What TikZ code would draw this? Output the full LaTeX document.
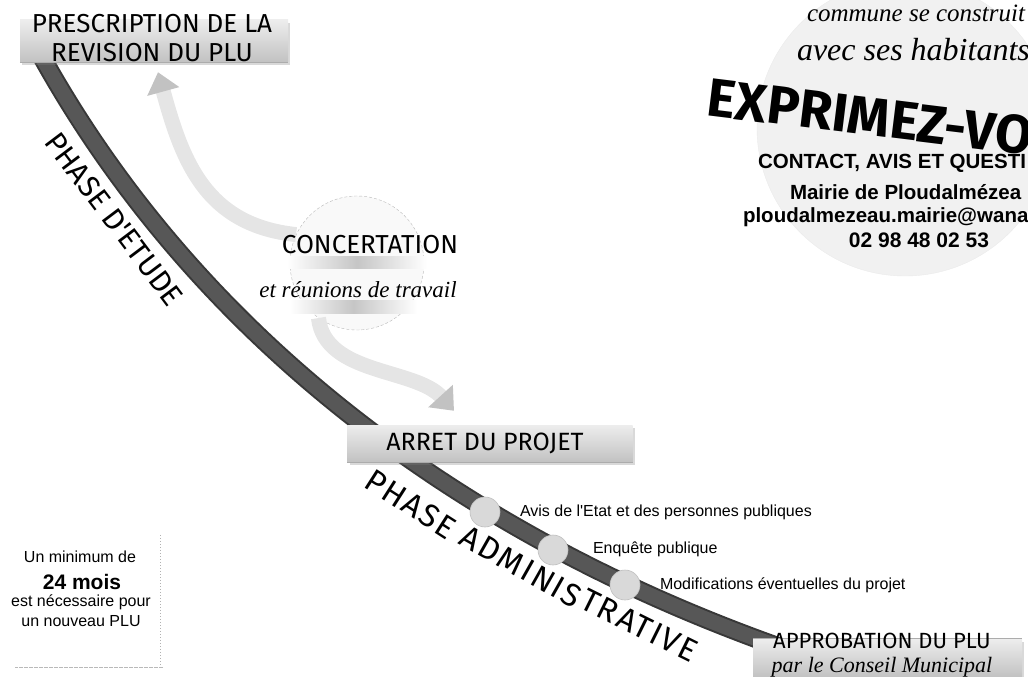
\documentclass[tikz,border=0pt]{standalone}
\usepackage{fontspec}
\newfontfamily\hand{Fira Sans}
\newfontfamily\handsp[LetterSpace=6]{Fira Sans}
\newfontfamily\arial{Liberation Sans}
\newfontfamily\scrpt{Liberation Serif}
\usetikzlibrary{arrows.meta,shadows,calc}
\newcommand\fsz[1]{\fontsize{#1}{#1}\selectfont}
\begin{document}
\begin{tikzpicture}[x=1pt,y=-1pt,
  txt/.style={inner sep=0pt, outer sep=0pt},
  graybox/.style={inner sep=0pt, top color=gray!14, bottom color=gray!48,
     drop shadow={opacity=0.3,shadow xshift=2pt,shadow yshift=-3pt}},
  boxedge/.style={draw=gray!65, line width=1.2pt},
  stepdot/.style={circle, minimum size=30pt, inner sep=0pt, fill=gray!30, draw=gray!50, line width=0.6pt},
  cloudarrow/.style={line width=15pt, draw=gray!20, -{Triangle[length=20pt,width=32pt,color=gray!48]}},
  handcaps/.style={txt, font=\hand\fsz{25}},
  phasetxt/.style={txt, font=\handsp\fsz{32}, sloped, anchor=base west},
  arialtxt/.style={txt, font=\arial\fsz{16}},
  contact/.style={txt, anchor=west, font=\arial\bfseries\fsz{20.5}}
]
\useasboundingbox (0,0) rectangle (1028,677);
\begin{scope}
\clip (0,0) rectangle (1028,677);

% big contact circle
\node[circle, minimum size=296pt, fill=gray!11, draw=gray!16] (contact) at (905,128) {};

% concertation circle and its gray bars
\node[circle, minimum size=134pt, fill=gray!5, draw=gray!55, dash pattern=on 3pt off 2pt] (conc) at (357,263) {};
\shade[left color=white, right color=white, middle color=gray!45] (287,256) rectangle (427,268);
\shade[left color=white, right color=white, middle color=gray!45] (290,300) rectangle (417,313);

% main timeline band
\coordinate (bs) at (30,35);
\coordinate (be) at (782,648);
\draw[line width=19pt, black!78] (bs) .. controls (170,300) and (420,520) .. (be);
\draw[line width=15pt, black!66] (bs) .. controls (170,300) and (420,520) .. (be);

% boxes
\node[graybox, minimum width=268pt, minimum height=42pt] (presc) at (154,41) {};
\draw[boxedge] (presc.south west) -- (presc.south east);
\node[graybox, minimum width=285pt, minimum height=37pt] (arret) at (490,443.5) {};
\draw[boxedge] (arret.south west) -- (arret.south east);
\node[graybox, minimum width=269pt, minimum height=38pt] (approb) at (887.5,658) {};
\draw[boxedge] (approb.north west) -- (approb.north east);

% arrows from concertation
\draw[cloudarrow] (conc.155) .. controls (205,225) and (182,160) .. ([xshift=4pt,yshift=-10pt]presc.south);
\draw[cloudarrow] (conc.235) .. controls (325,375) and (415,368) .. ([xshift=-36pt,yshift=14pt]arret.north);

% box texts
\node[handcaps, font=\hand\fsz{26}] (presc1) at (152,24) {PRESCRIPTION DE LA};
\node[handcaps, font=\hand\fsz{26}] (presc2) at (152,53) {REVISION DU PLU};
\node[handcaps] (arrett) at (485,443) {ARRET DU PROJET};
\node[handcaps, font=\hand\fsz{22}] (approb1) at (882,641) {APPROBATION DU PLU};
\node[txt, font=\scrpt\itshape\fsz{22}] (approb2) at (882,667) {par le Conseil Municipal};

% concertation texts
\node[handcaps, font=\hand\fsz{26}] (conct) at (370,245) {CONCERTATION};
\node[txt, font=\scrpt\itshape\fsz{23}] (concs) at (358,290) {et réunions de travail};

% steps on band
\node[stepdot] (c1) at (485,512) {};
\node[stepdot] (c2) at (553,550) {};
\node[stepdot] (c3) at (625,585) {};
\node[arialtxt, anchor=west] (l1) at (520,512) {Avis de l'Etat et des personnes publiques};
\node[arialtxt, anchor=west] (l2) at (593,549) {Enquête publique};
\node[arialtxt, anchor=west] (l3) at (660,585) {Modifications éventuelles du projet};

% phase labels beside the band
\node[txt, font=\hand\fsz{30}, rotate=-53] (phase1) at (114,219) {PHASE D'ETUDE};
\path (362,486) .. controls (440,536) and (600,626) .. (715,667)
  node[phasetxt, pos=0] (phase2a) {PHASE}
  node[phasetxt, pos=0.32] (phase2b) {ADMINIS}
  node[phasetxt, pos=0.638] (phase2c) {TRATIVE};

% duration box
\node[minimum width=150pt, minimum height=132pt, inner sep=0pt] (minbox) at (85,601) {};
\draw[gray!60, dotted, line width=1pt] (minbox.north east) -- (minbox.south east);
\draw[gray!55, line width=1.2pt, dash pattern=on 4pt off 1pt] ([xshift=3pt]minbox.south east) -- ([xshift=5pt]minbox.south west);
\node[arialtxt] (m1) at (80,557) {Un minimum de};
\node[txt, font=\arial\bfseries\fsz{21}] (m2) at (82,582) {24 mois};
\node[arialtxt] (m3) at (81,602) {est nécessaire pour};
\node[arialtxt] (m4) at (81,621) {un nouveau PLU};

% contact texts
\node[txt, anchor=west, font=\scrpt\itshape\fsz{25}] (k1) at (807,13) {commune se construit};
\node[txt, anchor=west, font=\scrpt\itshape\fsz{32}] (k2) at (797,50) {avec ses habitants};
\node[txt, anchor=west, rotate=-7, font=\hand\bfseries\fsz{54}] (k3) at (708,97) {EXPRIMEZ-VO};
\node[contact] (k4) at (758,163) {CONTACT, AVIS ET QUESTI};
\node[contact] (k5) at (790,192) {Mairie de Ploudalmézea};
\node[contact] (k6) at (743,217) {ploudalmezeau.mairie@wana};
\node[txt, font=\arial\bfseries\fsz{21}] (k7) at (919,240) {02 98 48 02 53};
\end{scope}
\end{tikzpicture}
\end{document}
